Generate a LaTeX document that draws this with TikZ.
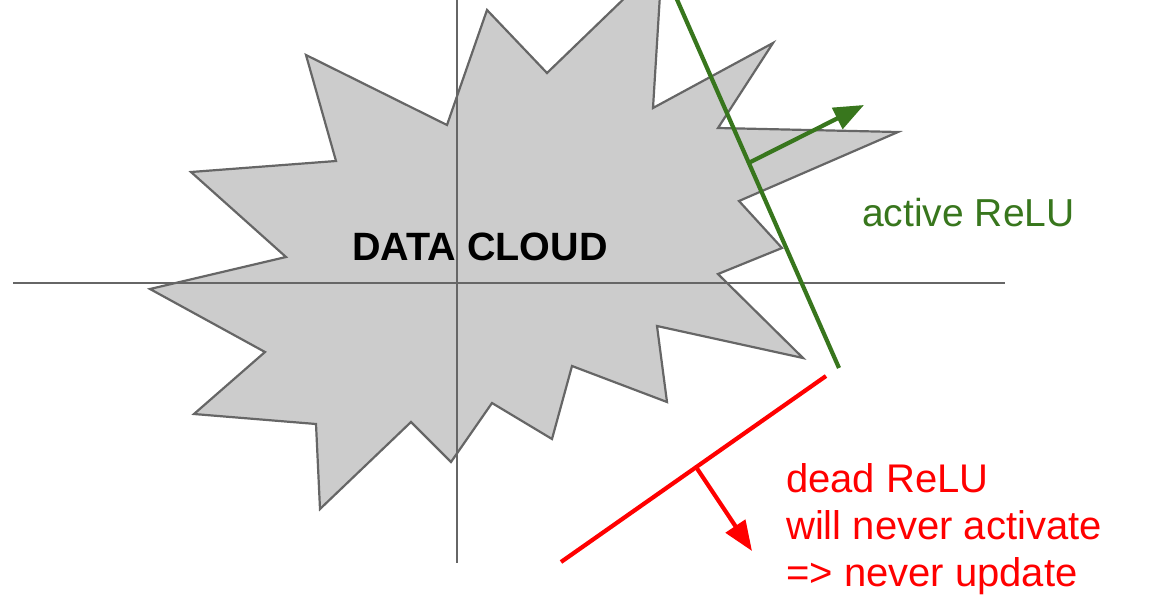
\documentclass[tikz,border=0pt]{standalone}
\usepackage{fontspec}
\setmainfont{Liberation Sans}
\usetikzlibrary{arrows.meta, calc, positioning}
\definecolor{cloudfill}{HTML}{CCCCCC}
\definecolor{clouddraw}{HTML}{666666}
\definecolor{activegreen}{HTML}{38761D}
\definecolor{deadred}{HTML}{FF0000}

\begin{document}
\begin{tikzpicture}[x=1pt, y=-1pt, >=Stealth,
    cloudshape/.style={fill=cloudfill, draw=clouddraw, line width=2.2pt, line join=miter},
    axisline/.style={draw=clouddraw, line width=2pt},
    reluline/.style={line width=4.2pt},
    relutext/.style={inner sep=0pt, font=\fontsize{40}{47}\selectfont, align=left}]
  \useasboundingbox (0,0) rectangle (1157,595);
  \clip (0,0) rectangle (1157,595);
  \draw[cloudshape] (150,289) -- (286,257) -- (191,172) -- (336,161) -- (306,55) -- (447,125)
    -- (487,10) -- (547,73) -- (662,-38) -- (653,108) -- (773,43) -- (718,128) -- (898,132)
    -- (739,201) -- (782,248) -- (718,274) -- (803,358) -- (657,326) -- (667,402) -- (572,366)
    -- (552,439) -- (492,403) -- (451,462) -- (411,422) -- (320,509) -- (316,424) -- (194,414)
    -- (265,352) -- cycle;
  \node[relutext, font=\bfseries\fontsize{39.5}{47}\selectfont, anchor=base] (cloud) at (480,260) {DATA CLOUD};
  \coordinate (xl) at (13,283);
  \coordinate (xr) at (1005,283);
  \coordinate (yt) at (457,-5);
  \coordinate (yb) at (457,563);
  \draw[axisline] (xl) -- (xr);
  \draw[axisline] (yt) -- (yb);
  \coordinate (gtop) at (675,-5);
  \coordinate (gbot) at (839,368);
  \coordinate (gbase) at ($(gtop)!0.45!(gbot)$);
  \coordinate (gtip) at (864,105);
  \draw[reluline, activegreen] (gtop) -- (gbot);
  \draw[reluline, activegreen, -{Triangle[length=30pt, width=23pt]}] (gbase) -- (gtip);
  \node[relutext, text=activegreen, font=\fontsize{39}{47}\selectfont, anchor=base west] (active) at (862,226) {active ReLU};
  \coordinate (rtop) at (826,376);
  \coordinate (rbot) at (561,562);
  \coordinate (rbase) at ($(rtop)!0.49!(rbot)$);
  \coordinate (rtip) at (752,551);
  \draw[reluline, deadred] (rtop) -- (rbot);
  \draw[reluline, deadred, -{Triangle[length=30pt, width=23pt]}] (rbase) -- (rtip);
  \node[relutext, text=deadred, anchor=base west] (dead) at (786,586) {dead ReLU\\will never activate\\=> never update};
\end{tikzpicture}
\end{document}
